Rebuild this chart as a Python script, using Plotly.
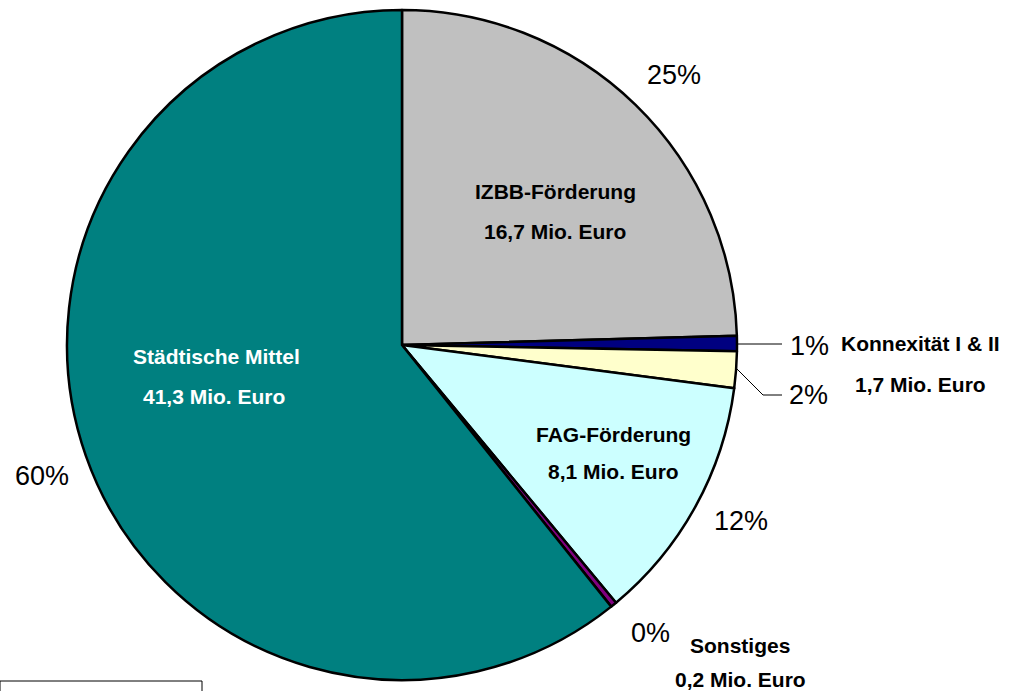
import plotly.graph_objects as go

W, H = 1013, 691

categories = ["IZBB-Förderung", "Konnexität I", "Konnexität II", "FAG-Förderung", "Sonstiges", "Städtische Mittel"]
values = [16.7, 0.5, 1.2, 8.1, 0.2, 41.3]
colors = ["#C0C0C0", "#000080", "#FFFFCC", "#CCFFFF", "#800080", "#008080"]
pct_labels = ["25%", "1%", "2%", "12%", "0%", "60%"]
name_labels = ["IZBB-Förderung", "16,7 Mio. Euro", "Konnexität I & II", "1,7 Mio. Euro",
               "FAG-Förderung", "8,1 Mio. Euro", "Sonstiges", "0,2 Mio. Euro",
               "Städtische Mittel", "41,3 Mio. Euro"]

cx, cy, r = 402, 345, 335

fig = go.Figure(go.Pie(
    labels=categories, values=values, sort=False, direction="clockwise", rotation=0,
    marker=dict(colors=colors, line=dict(color="black", width=2.5)),
    textinfo="none", hoverinfo="label+value", showlegend=False,
    domain=dict(x=[(cx - r) / W, (cx + r) / W], y=[(H - cy - r) / H, (H - cy + r) / H]),
))

def px(x):
    return x / W

def py(y):
    return 1 - y / H

annotations = []
pct_pos = [(674, 75), (809, 346), (808, 395), (741, 521), (650, 633), (42, 476)]
for t, (x, y) in zip(pct_labels, pct_pos):
    annotations.append(dict(x=px(x), y=py(y), text=t, showarrow=False, xref="paper", yref="paper",
                            xanchor="center", yanchor="middle",
                            font=dict(family="Liberation Sans, Arial", size=27, color="black")))

name_pos = [(555, 191, "black"), (555, 231, "black"),
            (920, 343, "black"), (920, 384, "black"),
            (613, 434, "black"), (613, 472, "black"),
            (740, 645, "black"), (740, 679, "black"),
            (216, 356, "white"), (214, 397, "white")]
for t, (x, y, c) in zip(name_labels, name_pos):
    annotations.append(dict(x=px(x), y=py(y), text="<b>" + t + "</b>", showarrow=False, xref="paper", yref="paper",
                            xanchor="center", yanchor="middle",
                            font=dict(family="Liberation Sans, Arial", size=21, color=c)))

shapes = [
    dict(type="line", xref="paper", yref="paper", x0=px(737), y0=py(344), x1=px(782), y1=py(344),
         line=dict(color="black", width=1)),
    dict(type="line", xref="paper", yref="paper", x0=px(737), y0=py(369), x1=px(763), y1=py(395),
         line=dict(color="black", width=1)),
    dict(type="line", xref="paper", yref="paper", x0=px(763), y0=py(395), x1=px(782), y1=py(395),
         line=dict(color="black", width=1)),
    dict(type="rect", xref="paper", yref="paper", x0=px(0), y0=py(681), x1=px(202), y1=py(700),
         line=dict(color="black", width=1), fillcolor="white"),
]

fig.update_layout(width=W, height=H, margin=dict(l=0, r=0, t=0, b=0),
                  paper_bgcolor="white", plot_bgcolor="white",
                  annotations=annotations, shapes=shapes)

fig.write_html("out.html", config={"displayModeBar": False},
               post_script="document.body.style.margin='0';document.body.style.overflow='hidden';")
